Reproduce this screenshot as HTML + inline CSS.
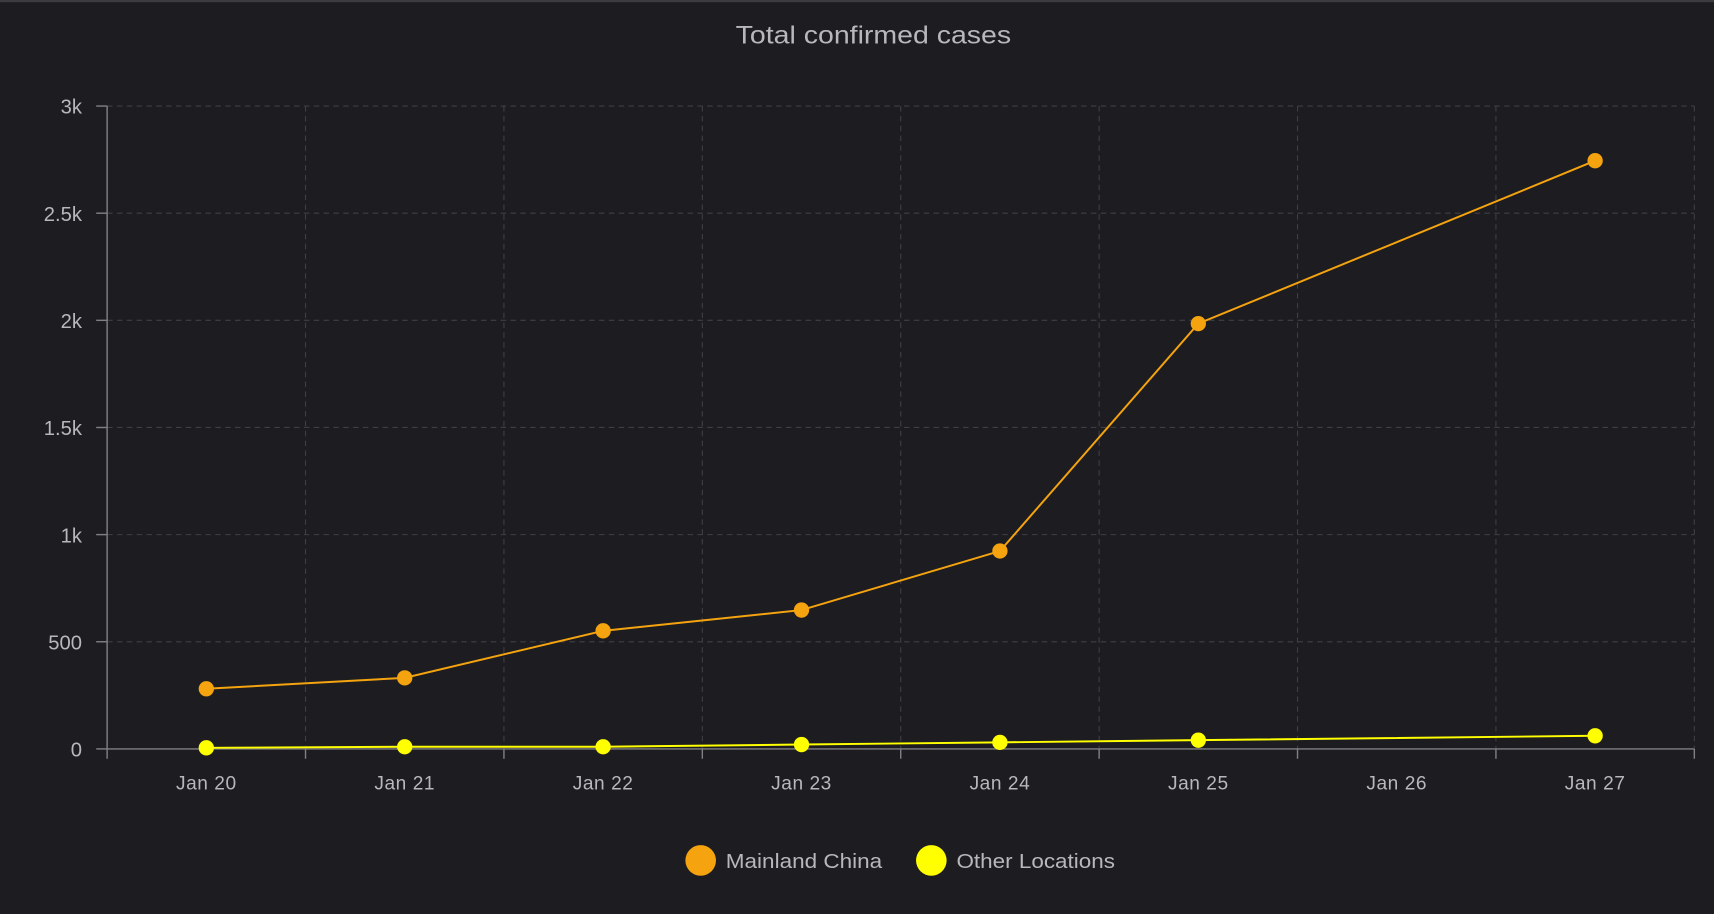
<!DOCTYPE html>
<html><head><meta charset="utf-8"><style>
html,body{margin:0;padding:0;background:#1d1d21;}
svg{display:block}
text{font-family:"Liberation Sans",sans-serif;fill:#b8b8bc}
</style></head><body>
<svg width="1714" height="914" viewBox="0 0 1568 836" preserveAspectRatio="none">
<rect width="1568" height="836" fill="#1d1d21"/>
<rect width="1568" height="2" fill="#3c3c40"/>
<text x="673" y="40" font-size="23" textLength="252" lengthAdjust="spacingAndGlyphs" fill="#cfcfd2">Total confirmed cases</text>
<g stroke="#3e3e44" stroke-width="1" stroke-dasharray="5,4" fill="none">
<line x1="98" y1="97" x2="1550" y2="97"/><line x1="98" y1="195" x2="1550" y2="195"/>
<line x1="98" y1="293" x2="1550" y2="293"/><line x1="98" y1="391" x2="1550" y2="391"/>
<line x1="98" y1="489" x2="1550" y2="489"/><line x1="98" y1="587" x2="1550" y2="587"/>
<line x1="279.5" y1="97" x2="279.5" y2="685"/><line x1="461" y1="97" x2="461" y2="685"/>
<line x1="642.5" y1="97" x2="642.5" y2="685"/><line x1="824" y1="97" x2="824" y2="685"/>
<line x1="1005.5" y1="97" x2="1005.5" y2="685"/><line x1="1187" y1="97" x2="1187" y2="685"/>
<line x1="1368.5" y1="97" x2="1368.5" y2="685"/><line x1="1550" y1="97" x2="1550" y2="685"/>
</g>
<g stroke="#808084" stroke-width="1.3">
<line x1="98" y1="97" x2="98" y2="685"/><line x1="98" y1="685" x2="1550" y2="685"/>
<line x1="88" y1="97" x2="98" y2="97"/><line x1="88" y1="195" x2="98" y2="195"/>
<line x1="88" y1="293" x2="98" y2="293"/><line x1="88" y1="391" x2="98" y2="391"/>
<line x1="88" y1="489" x2="98" y2="489"/><line x1="88" y1="587" x2="98" y2="587"/>
<line x1="88" y1="685" x2="98" y2="685"/>
<line x1="98" y1="685" x2="98" y2="694"/><line x1="279.5" y1="685" x2="279.5" y2="694"/>
<line x1="461" y1="685" x2="461" y2="694"/><line x1="642.5" y1="685" x2="642.5" y2="694"/>
<line x1="824" y1="685" x2="824" y2="694"/><line x1="1005.5" y1="685" x2="1005.5" y2="694"/>
<line x1="1187" y1="685" x2="1187" y2="694"/><line x1="1368.5" y1="685" x2="1368.5" y2="694"/>
<line x1="1550" y1="685" x2="1550" y2="694"/>
</g>
<g font-size="18.5" text-anchor="end">
<text x="75" y="104">3k</text><text x="75" y="202">2.5k</text><text x="75" y="300">2k</text>
<text x="75" y="398">1.5k</text><text x="75" y="496">1k</text><text x="75" y="594">500</text>
<text x="75" y="692">0</text>
</g>
<g font-size="17.5" text-anchor="middle" letter-spacing="0.5">
<text x="188.75" y="722">Jan 20</text><text x="370.25" y="722">Jan 21</text>
<text x="551.75" y="722">Jan 22</text><text x="733.25" y="722">Jan 23</text>
<text x="914.75" y="722">Jan 24</text><text x="1096.25" y="722">Jan 25</text>
<text x="1277.75" y="722">Jan 26</text><text x="1459.25" y="722">Jan 27</text>
</g>
<polyline fill="none" stroke="#f5a30f" stroke-width="1.8" points="188.75,630 370.25,620 551.75,577 733.25,558 914.75,504 1096.25,296 1459.25,147"/>
<g fill="#f5a30f">
<circle cx="188.75" cy="630" r="7"/><circle cx="370.25" cy="620" r="7"/><circle cx="551.75" cy="577" r="7"/>
<circle cx="733.25" cy="558" r="7"/><circle cx="914.75" cy="504" r="7"/><circle cx="1096.25" cy="296" r="7"/>
<circle cx="1459.25" cy="147" r="7"/>
</g>
<polyline fill="none" stroke="#ffff00" stroke-width="1.8" points="188.75,684 370.25,683 551.75,683 733.25,681 914.75,679 1096.25,677 1459.25,673"/>
<g fill="#ffff00">
<circle cx="188.75" cy="684" r="7"/><circle cx="370.25" cy="683" r="7"/><circle cx="551.75" cy="683" r="7"/>
<circle cx="733.25" cy="681" r="7"/><circle cx="914.75" cy="679" r="7"/><circle cx="1096.25" cy="677" r="7"/>
<circle cx="1459.25" cy="673" r="7"/>
</g>
<circle cx="641" cy="787" r="14" fill="#f5a30f"/>
<text x="664" y="794" font-size="19" textLength="143" lengthAdjust="spacingAndGlyphs">Mainland China</text>
<circle cx="852" cy="787" r="14" fill="#ffff00"/>
<text x="875" y="794" font-size="19" textLength="145" lengthAdjust="spacingAndGlyphs">Other Locations</text>
</svg>
</body></html>
